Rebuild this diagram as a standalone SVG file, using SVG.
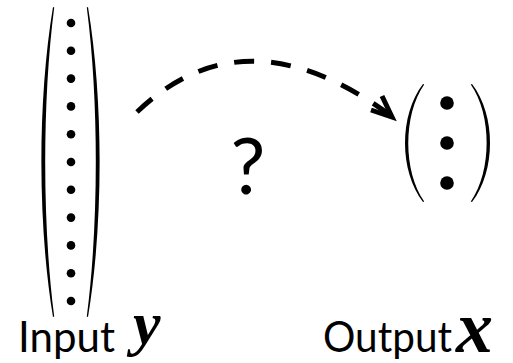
<svg xmlns="http://www.w3.org/2000/svg" width="513" height="363" viewBox="0 0 513 363">
  <style>
    .paren { fill: #000; stroke: none; }
    .dot { fill: #000; }
    .label { font-family: Lato, "Liberation Sans", sans-serif; font-size: 42px; fill: #000; }
    .math { font-family: "Liberation Serif", "DejaVu Serif", serif; font-weight: bold; font-style: italic; fill: #000; }
    .conn { fill: none; stroke: #000; stroke-width: 5; }
    .q { font-family: Lato, "Liberation Sans", sans-serif; font-size: 78px; fill: #000; }
  </style>
  <rect width="513" height="363" fill="#fff"/>

  <g id="input-vector">
    <path class="paren" d="M53,7 C37.5,100 37.5,224 53,317 L54.2,316.5 C42.2,224 42.2,100 54.2,7.5 Z"/>
    <path class="paren" d="M88,7 C103.5,100 103.5,224 88,317 L86.8,316.5 C98.8,224 98.8,100 86.8,7.5 Z"/>
    <circle class="dot" cx="71" cy="23" r="4.3"/>
    <circle class="dot" cx="71" cy="50.8" r="4.3"/>
    <circle class="dot" cx="71" cy="78.6" r="4.3"/>
    <circle class="dot" cx="71" cy="106.4" r="4.3"/>
    <circle class="dot" cx="71" cy="134.2" r="4.3"/>
    <circle class="dot" cx="71" cy="162" r="4.3"/>
    <circle class="dot" cx="71" cy="189.8" r="4.3"/>
    <circle class="dot" cx="71" cy="217.6" r="4.3"/>
    <circle class="dot" cx="71" cy="245.4" r="4.3"/>
    <circle class="dot" cx="71" cy="273.2" r="4.3"/>
    <circle class="dot" cx="71" cy="301" r="4.3"/>
    <text class="label" x="18" y="352" textLength="97" lengthAdjust="spacingAndGlyphs">Input</text>
    <text class="math" x="133" y="344" font-size="62">y</text>
  </g>

  <g id="output-vector">
    <path class="paren" d="M423,84 C399,115 399,171 423,202 L424.2,201.5 C403,171 403,115 424.2,84.5 Z"/>
    <path class="paren" d="M472,84 C496,115 496,171 472,202 L470.8,201.5 C492,171 492,115 470.8,84.5 Z"/>
    <circle class="dot" cx="447" cy="103" r="6.8"/>
    <circle class="dot" cx="447" cy="143" r="6.8"/>
    <circle class="dot" cx="447" cy="183" r="6.8"/>
    <text class="label" x="323" y="352" textLength="129" lengthAdjust="spacingAndGlyphs">Output</text>
    <text class="math" x="456" y="352" font-size="74">x</text>
  </g>

  <g id="connectors">
    <path class="conn" d="M137,112 Q245,9 390,115" stroke-dasharray="20 17"/>
    <path class="conn" d="M382,96 L392,117 L371,110" stroke-linejoin="miter"/>
  </g>

  <g id="question">
    <text class="q" x="248" y="194" text-anchor="middle">?</text>
  </g>
</svg>
